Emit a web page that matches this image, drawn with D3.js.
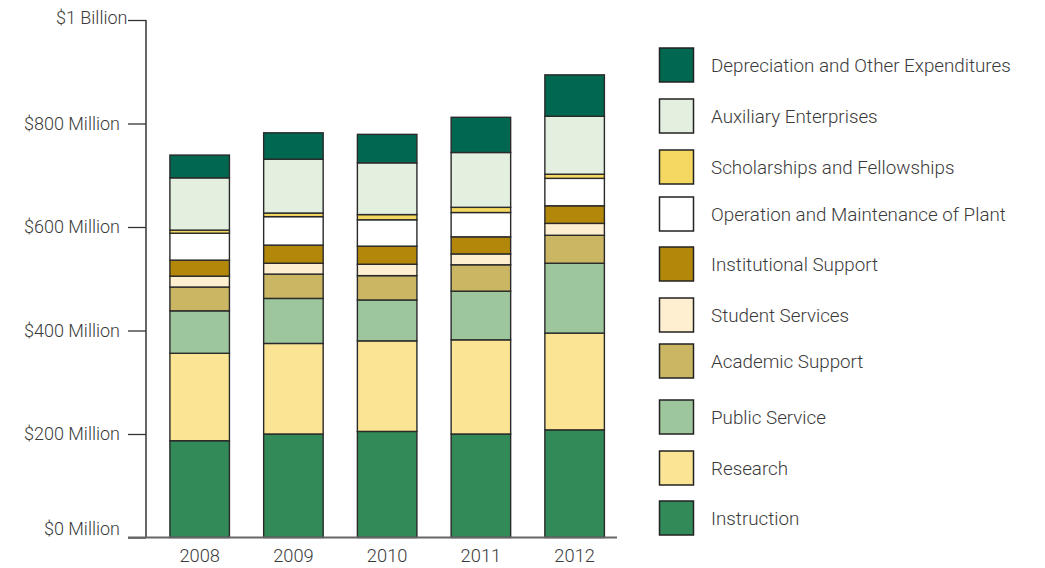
<!DOCTYPE html>
<html>
<head>
<meta charset="utf-8">
<script src="https://cdn.jsdelivr.net/npm/d3@7"></script>
<style>
  html, body { margin: 0; padding: 0; background: #fff; }
  svg { display: block; }
  text { font-family: "Roboto", "Liberation Sans", sans-serif; font-weight: 300; fill: #3a3a3a; }
</style>
</head>
<body>
<svg id="chart" width="1045" height="568"></svg>
<script>
// ---- data (millions of dollars) ----
const years = ["2008", "2009", "2010", "2011", "2012"];
const seriesNames = [
  "Instruction", "Research", "Public Service", "Academic Support", "Student Services",
  "Institutional Support", "Operation and Maintenance of Plant", "Scholarships and Fellowships",
  "Auxiliary Enterprises", "Depreciation and Other Expenditures"
];
const instruction    = [187, 200, 205, 200, 208];
const research       = [169, 175, 175, 182, 187];
const publicService  = [82, 87, 79, 94, 135];
const academicSupport= [46, 47, 47, 51, 54];
const studentServices= [21, 21, 22, 21, 23];
const institutional  = [31, 35, 35, 33, 34];
const operation      = [52, 55, 51, 47, 53];
const scholarships   = [6, 7, 10, 10, 8];
const auxiliary      = [101, 104, 100, 106, 112];
const depreciation   = [44, 51, 55, 68, 80];
const tickValues = [0, 200, 400, 600, 800, 1000];
const tickLabels = ["$0 Million", "$200 Million", "$400 Million", "$600 Million", "$800 Million", "$1 Billion"];

// ---- styles / layout ----
const colors = ["#318a58", "#fbe594", "#9ec69d", "#cbb664", "#feefd0",
                "#b3870a", "#ffffff", "#f5d862", "#e3efdf", "#006850"];
const legendOrder = seriesNames.slice().reverse();
const legendTops = [48, 99, 150, 197, 247, 298, 344, 400, 451, 501];

const seriesValues = [instruction, research, publicService, academicSupport, studentServices,
  institutional, operation, scholarships, auxiliary, depreciation];
const table = years.map((yr, i) => {
  const row = { year: yr };
  seriesNames.forEach((s, k) => row[s] = seriesValues[k][i]);
  return row;
});
const stacked = d3.stack().keys(seriesNames)(table);

const svg = d3.select("#chart");
const x = d3.scaleBand().domain(years).range([152.8, 621.5]).paddingInner(0.365).paddingOuter(0.1825);
const y = d3.scaleLinear().domain([0, 1000]).range([537.5, 20]);
const color = d3.scaleOrdinal().domain(seriesNames).range(colors);

// bars
const g = svg.append("g");
g.selectAll("g.layer").data(stacked).join("g")
  .attr("class", "layer")
  .attr("fill", d => color(d.key))
  .selectAll("rect").data(d => d).join("rect")
  .attr("x", d => x(d.data.year))
  .attr("width", x.bandwidth())
  .attr("y", d => y(d[1]))
  .attr("height", d => y(d[0]) - y(d[1]))
  .attr("stroke", "#2a2a2a")
  .attr("stroke-width", 1.4);

// y axis
const yAxis = d3.axisLeft(y).tickValues(tickValues)
  .tickFormat((d, i) => tickLabels[i]).tickSize(18).tickPadding(8);
const ya = svg.append("g").attr("transform", "translate(146,0)").call(yAxis);
ya.select(".domain").remove();
ya.selectAll(".tick line").attr("stroke", "#333").attr("stroke-width", 1.3);
ya.selectAll(".tick text").attr("font-size", 18).attr("fill", "#3a3a3a")
  .style("font-family", "Roboto, 'Liberation Sans', sans-serif").style("font-weight", 300);
ya.selectAll(".tick").filter(d => d === 1000).select("text").attr("x", -18.5).attr("y", -2);
ya.selectAll(".tick").filter(d => d === 0).select("text").attr("y", -9);
svg.append("line").attr("x1", 146).attr("x2", 146).attr("y1", y(1000)).attr("y2", y(0))
  .attr("stroke", "#333").attr("stroke-width", 1.5);

// x axis
svg.append("line").attr("x1", 128).attr("x2", 617).attr("y1", y(0)).attr("y2", y(0))
  .attr("stroke", "#666").attr("stroke-width", 2);
const xa = svg.append("g").attr("transform", `translate(0,${y(0)})`)
  .call(d3.axisBottom(x).tickSize(0).tickPadding(11.5));
xa.select(".domain").remove();
xa.selectAll("text").attr("font-size", 18.3).attr("fill", "#3a3a3a")
  .style("font-family", "Roboto, 'Liberation Sans', sans-serif").style("font-weight", 300);

// legend
const lg = svg.append("g");
const items = lg.selectAll("g").data(legendOrder).join("g")
  .attr("transform", (d, i) => `translate(659.5,${legendTops[i]})`);
items.append("rect").attr("width", 34).attr("height", 34)
  .attr("fill", d => color(d)).attr("stroke", "#222").attr("stroke-width", 1.5);
items.append("text").attr("x", 51.5).attr("y", 17).attr("dy", "0.35em")
  .attr("font-size", 18.8).text(d => d);
</script>
</body>
</html>
